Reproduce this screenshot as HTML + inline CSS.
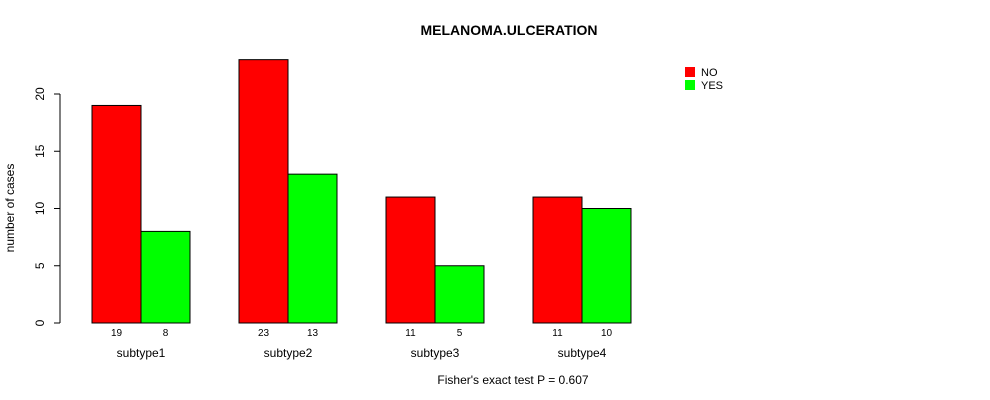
<!DOCTYPE html>
<html><head><meta charset="utf-8"><style>body{margin:0;background:#fff}svg{display:block;font-family:"Liberation Sans",sans-serif}</style></head>
<body>
<svg id="c" width="990" height="400">
<text x="509" y="35" text-anchor="middle" font-weight="bold" font-size="14">MELANOMA.ULCERATION</text>
<text transform="translate(14,208) rotate(-90)" text-anchor="middle" font-size="12">number of cases</text>
<text x="513" y="384" text-anchor="middle" font-size="12">Fisher's exact test P = 0.607</text>
<rect x="685" y="67" width="10" height="10" fill="#f00"/>
<text x="701" y="76" font-size="11">NO</text>
<rect x="685" y="80" width="10" height="10" fill="#0f0"/>
<text x="701" y="89" font-size="11">YES</text>
</svg>
<script>
const categories=["subtype1","subtype2","subtype3","subtype4"];
const noValues=[19,23,11,11];
const yesValues=[8,13,5,10];
const yTicks=[0,5,10,15,20];
const svg=document.getElementById('c');
const NS='http://www.w3.org/2000/svg';
const y=v=>323-v*11.45;
const x0=92,bw=49,gs=147;
function mk(t,a,txt){const e=document.createElementNS(NS,t);for(const k in a)e.setAttribute(k,a[k]);if(txt!==undefined)e.textContent=txt;svg.appendChild(e);return e;}
const ax=mk('line',{x1:60,x2:60,y1:y(yTicks[0]),y2:y(yTicks[yTicks.length-1]),stroke:'#000'});


yTicks.forEach(t=>{
 const l=mk('line',{x1:54,x2:60,y1:y(t),y2:y(t),stroke:'#000'});
 
 
 const tx=mk('text',{transform:`translate(44,${y(t)}) rotate(-90)`,'text-anchor':'middle','font-size':12},t);
 
 
});
categories.forEach((c,i)=>{
 const gx=x0+i*gs;
 [[noValues[i],'#f00','no'],[yesValues[i],'#0f0','yes']].forEach(([v,col,n],j)=>{
  const bx=gx+j*bw;
  const r=mk('rect',{x:bx,y:y(v),width:bw,height:y(0)-y(v),fill:col,stroke:'#000'});
  
  
  const t=mk('text',{x:bx+bw/2,y:336,'text-anchor':'middle','font-size':10},v);
  
  
 });
 const ct=mk('text',{x:gx+bw,y:357,'text-anchor':'middle','font-size':12},c);
 
 
});
</script>
</body></html>
